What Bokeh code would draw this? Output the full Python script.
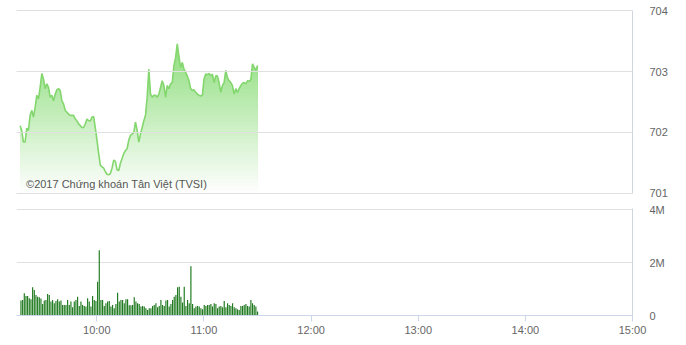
import numpy as np
import pandas as pd
from bokeh.plotting import figure
from bokeh.layouts import column
from bokeh.models import Range1d, FixedTicker, DatetimeTickFormatter, Label
from bokeh.embed import file_html
from bokeh.resources import INLINE

DAY = "2017-01-01"

# Price (index) values, roughly one per minute from 09:17 to 11:30
price = [
    702.11, 702.03, 701.84, 701.84, 702.07, 702.03, 702.28, 702.36, 702.25, 702.41,
    702.61, 702.55, 702.74, 702.97, 702.88, 702.72, 702.80, 702.74, 702.58, 702.61,
    702.52, 702.63, 702.70, 702.72, 702.69, 702.52, 702.47, 702.36, 702.33, 702.30,
    702.28, 702.28, 702.28, 702.22, 702.19, 702.14, 702.11, 702.08, 702.08, 702.14,
    702.22, 702.19, 702.19, 702.25, 702.26, 702.07, 701.87, 701.65, 701.46, 701.43,
    701.41, 701.35, 701.31, 701.30, 701.32, 701.41, 701.54, 701.52, 701.38, 701.37,
    701.49, 701.57, 701.65, 701.70, 701.73, 701.87, 701.95, 701.97, 702.00, 702.17,
    702.03, 701.84, 701.97, 702.08, 702.19, 702.28, 702.58, 703.04, 702.63, 702.58,
    702.61, 702.61, 702.58, 702.63, 702.74, 702.85, 702.77, 702.58, 702.77, 702.72,
    702.80, 702.82, 703.10, 703.23, 703.46, 703.25, 703.07, 703.15, 703.04, 702.99,
    702.93, 702.85, 702.72, 702.69, 702.70, 702.66, 702.63, 702.61, 702.60, 702.61,
    702.88, 702.96, 702.95, 702.97, 702.93, 702.96, 702.82, 702.93, 702.93, 702.82,
    702.66, 702.77, 702.82, 703.02, 702.90, 702.85, 702.82, 702.77, 702.63, 702.72,
    702.66, 702.72, 702.77, 702.81, 702.82, 702.80, 702.85, 702.84, 702.87, 703.13,
    703.07, 703.02, 703.10,
]

# Volume, thousands of shares
volume = [
    562, 588, 838, 738, 738, 650, 612, 1062, 962, 775, 712, 688, 638, 438, 562, 588,
    812, 775, 525, 588, 462, 550, 612, 525, 562, 400, 400, 400, 588, 400, 525, 312,
    525, 588, 712, 362, 525, 400, 362, 338, 650, 525, 338, 738, 588, 550, 1275, 2462,
    588, 588, 362, 462, 525, 550, 338, 400, 275, 438, 862, 525, 588, 588, 462, 612,
    612, 388, 388, 400, 688, 525, 462, 438, 338, 362, 338, 275, 212, 275, 275, 362,
    400, 462, 312, 362, 588, 400, 362, 562, 588, 338, 438, 588, 712, 775, 1062, 1088,
    712, 488, 1088, 362, 588, 462, 1862, 438, 275, 338, 362, 338, 275, 238, 400, 362,
    400, 400, 438, 338, 462, 438, 275, 338, 362, 312, 550, 312, 462, 400, 362, 462,
    312, 275, 238, 212, 362, 362, 400, 438, 362, 338, 588, 462, 400, 338, 150,
]

price_ticks = [701, 702, 703, 704]
volume_ticks = [0, 2000, 4000]
volume_tick_labels = {0: "0", 2000: "2M", 4000: "4M"}
hour_ticks = ["10:00", "11:00", "12:00", "13:00", "14:00", "15:00"]

t_price = pd.date_range(f"{DAY} 09:17", f"{DAY} 11:30", periods=len(price))
t_vol = pd.date_range(f"{DAY} 09:17:30", f"{DAY} 11:30", periods=len(volume))

def ms(s):
    return pd.Timestamp(f"{DAY} {s}").value / 1e6

x_range = Range1d(ms("09:15"), ms("15:00"))
FONT = "Liberation Sans"
GRID = "#e0e0e0"
AXIS = "#d0d6de"
LABEL = "#666666"

# ---------- price panel ----------
p1 = figure(width=686, height=200, x_range=x_range, y_range=Range1d(700.992, 704.008),
            x_axis_type="datetime", x_axis_location=None, y_axis_location="right",
            output_backend="svg", toolbar_location=None,
            min_border_left=16, min_border_right=54, min_border_top=10, min_border_bottom=7)
p1.outline_line_color = None
p1.xgrid.grid_line_color = None
p1.ygrid.ticker = FixedTicker(ticks=price_ticks)
p1.ygrid.grid_line_color = GRID
p1.ygrid.level = "annotation"

pr = np.array(price)
base = 701.0
top_c = np.array([140, 221, 122])
levels = np.linspace(base, 703.6, 48)
step = levels[1] - levels[0]
for hi in levels[::-1][:-1]:
    f = min(1.0, max(0.0, (hi - step / 2 - base) / (703.5 - base)))
    c = (255 * (1 - f) + top_c * f).astype(int)
    col = "#%02x%02x%02x" % tuple(c)
    p1.varea(x=t_price, y1=base, y2=np.minimum(pr, hi), fill_color=col)

p1.line(t_price, price, line_color="#84d66f", line_width=1.6)

p1.yaxis.ticker = FixedTicker(ticks=price_ticks)
p1.yaxis.axis_line_color = AXIS
p1.yaxis.major_tick_line_color = None
p1.yaxis.minor_tick_line_color = None
p1.yaxis.major_label_standoff = 11
p1.yaxis.major_label_text_color = LABEL
p1.yaxis.major_label_text_font_size = "11px"
p1.yaxis.major_label_text_font = FONT

p1.add_layout(Label(x=ms("09:20:20"), y=701.15, text="©2017 Chứng khoán Tân Việt (TVSI)",
                    text_font=FONT, text_font_size="11px", text_color="#555555",
                    text_baseline="middle"))

# ---------- volume panel ----------
p2 = figure(width=686, height=145, x_range=x_range, y_range=Range1d(0, 4040),
            x_axis_type="datetime", y_axis_location="right",
            output_backend="svg", toolbar_location=None,
            min_border_left=16, min_border_right=54, min_border_top=8, min_border_bottom=30)
p2.outline_line_color = None
p2.xgrid.grid_line_color = None
p2.ygrid.ticker = FixedTicker(ticks=volume_ticks)
p2.ygrid.grid_line_color = GRID

bar_w = (t_vol[1] - t_vol[0]).total_seconds() * 1000 * 0.7
p2.vbar(x=t_vol, top=volume, width=bar_w, fill_color="#1f7a1f", line_color=None)

p2.yaxis.ticker = FixedTicker(ticks=volume_ticks)
p2.yaxis.major_label_overrides = volume_tick_labels
p2.yaxis.axis_line_color = AXIS
p2.yaxis.major_tick_line_color = None
p2.yaxis.minor_tick_line_color = None
p2.yaxis.major_label_standoff = 11
p2.yaxis.major_label_text_color = LABEL
p2.yaxis.major_label_text_font_size = "11px"
p2.yaxis.major_label_text_font = FONT

p2.xaxis.ticker = FixedTicker(ticks=[ms(h) for h in hour_ticks])
p2.xaxis.formatter = DatetimeTickFormatter(hours="%H:%M", hourmin="%H:%M", minutes="%H:%M",
                                           minsec="%H:%M", days="%H:%M")
p2.xaxis.axis_line_color = "#ccd6eb"
p2.xaxis.major_tick_line_color = "#ccd6eb"
p2.xaxis.major_tick_out = 6
p2.xaxis.major_tick_in = 0
p2.xaxis.minor_tick_line_color = None
p2.xaxis.major_label_standoff = 2
p2.xaxis.major_label_text_color = LABEL
p2.xaxis.major_label_text_font_size = "11px"
p2.xaxis.major_label_text_font = FONT

layout = column(p1, p2, spacing=0)
open("out.html", "w").write(file_html(layout, INLINE))
